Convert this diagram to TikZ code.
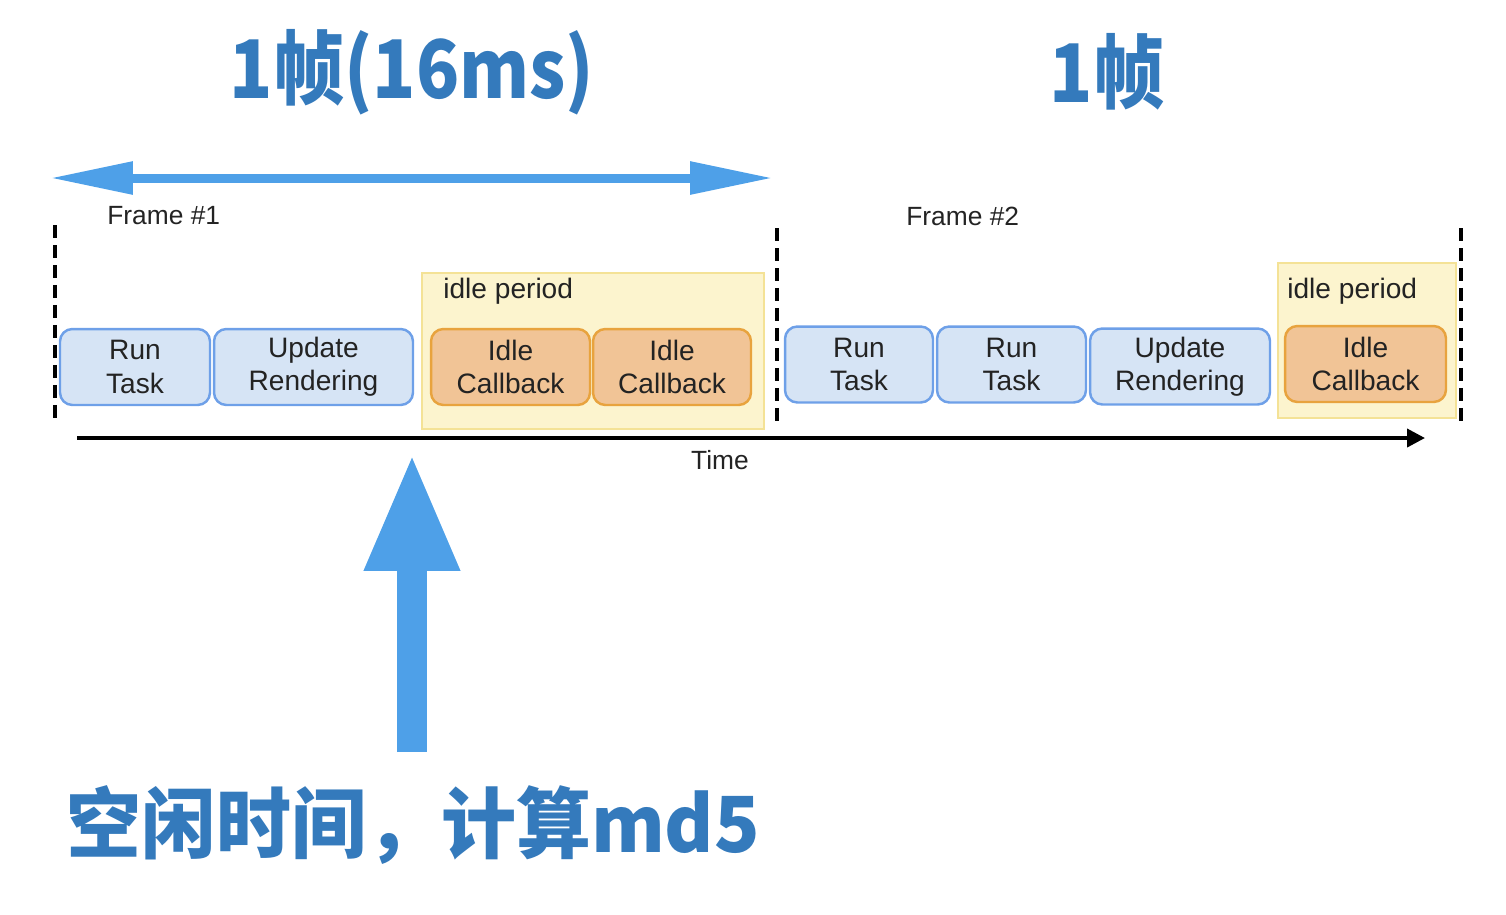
\documentclass[tikz,border=0pt]{standalone}
\usepackage{fontspec}
\setmainfont{Liberation Sans}
\newfontfamily\cjk{Noto Sans CJK SC}[FakeStretch=0.88]
\newfontfamily\cjknote{Noto Sans CJK SC}[FakeStretch=0.97]
\usetikzlibrary{arrows.meta,positioning}
\definecolor{titleblue}{RGB}{52,122,188}
\definecolor{arrowblue}{RGB}{78,160,232}
\definecolor{taskfill}{RGB}{214,228,245}
\definecolor{taskline}{RGB}{110,160,232}
\definecolor{idlefill}{RGB}{241,196,150}
\definecolor{idleline}{RGB}{232,163,62}
\definecolor{periodfill}{RGB}{252,244,206}
\definecolor{periodline}{RGB}{244,226,150}
\definecolor{labelgray}{RGB}{35,35,35}

\begin{document}
\begin{tikzpicture}[x=0.02cm, y=-0.02cm,
    task/.style={draw=taskline, fill=taskfill, line width=1.4pt, rounded corners=7pt, minimum height=1.52cm, align=center, text=labelgray, font=\fontsize{16}{19}\selectfont, inner sep=0pt, outer sep=0pt},
    idlecb/.style={task, draw=idleline, fill=idlefill},
    period/.style={draw=periodline, fill=periodfill, line width=1pt, inner sep=0pt},
    small/.style={text=labelgray, font=\fontsize{15}{18}\selectfont, inner sep=0pt},
    framesep/.style={line width=2pt, dash pattern=on 0.26cm off 0.14cm},
    heading/.style={text=titleblue, inner sep=0pt, font=\cjk\bfseries\fontsize{46}{50}\selectfont}]
    \useasboundingbox (0,0) rectangle (1506,914);

    \node[heading] (title1) at (412,72) {1帧(16ms)};
    \node[heading] (title2) at (1107,72) {1帧};

    \coordinate (span1l) at (50,178);
    \coordinate (span1r) at (773,178);
    \draw[{Triangle[length=1.66cm,width=0.62cm]}-{Triangle[length=1.66cm,width=0.62cm]}, line width=0.18cm, arrowblue] (span1l) -- (span1r);

    \node[small, anchor=west] (frame1) at (107,216) {Frame \#1};
    \node[small, anchor=west] (frame2) at (906,216) {Frame \#2};

    \node[period, minimum width=6.84cm, minimum height=3.12cm] (period1) at (593,351) {};
    \node[period, minimum width=3.56cm, minimum height=3.1cm] (period2) at (1367,340.5) {};
    \node[small, font=\fontsize{16}{19}\selectfont, anchor=west] (plabel1) at (443,291) {idle period};
    \node[small, font=\fontsize{16}{19}\selectfont, anchor=west] (plabel2) at (1287,291) {idle period};

    \draw[framesep] (55,225) -- (55,420);
    \draw[framesep] (777,228) -- (777,425);
    \draw[framesep] (1461,228) -- (1461,423);

    \node[task, minimum width=3cm] (run1) at (135,367) {Run\\Task};
    \node[task, minimum width=3.98cm] (update1) at (313.5,367) {Update\\Rendering};
    \node[idlecb, minimum width=3.18cm] (idle1a) at (510.5,367) {Idle\\Callback};
    \node[idlecb, minimum width=3.16cm] (idle1b) at (672,367) {Idle\\Callback};

    \node[task, minimum width=2.96cm] (run2a) at (859,364.5) {Run\\Task};
    \node[task, minimum width=2.98cm] (run2b) at (1011.5,364.5) {Run\\Task};
    \node[task, minimum width=3.6cm] (update2) at (1180,366.5) {Update\\Rendering};
    \node[idlecb, minimum width=3.22cm] (idle2) at (1365.5,364) {Idle\\Callback};

    \coordinate (time0) at (77,438);
    \coordinate (time1) at (1425,438);
    \draw[-{Triangle[length=0.36cm,width=0.36cm]}, line width=2.2pt] (time0) -- (time1);
    \node[small] (timelbl) at (720,460) {Time};

    \node[heading, font=\cjknote\bfseries\fontsize{44}{48}\selectfont] (calc) at (413,825) {空闲时间，计算md5};
    \coordinate (idlebase) at (412,752);
    \coordinate (idletip) at (412,452);
    \draw[-{Triangle[length=2.38cm,width=1.74cm]}, line width=0.6cm, arrowblue] (idlebase) -- (idletip);
\end{tikzpicture}
\end{document}
